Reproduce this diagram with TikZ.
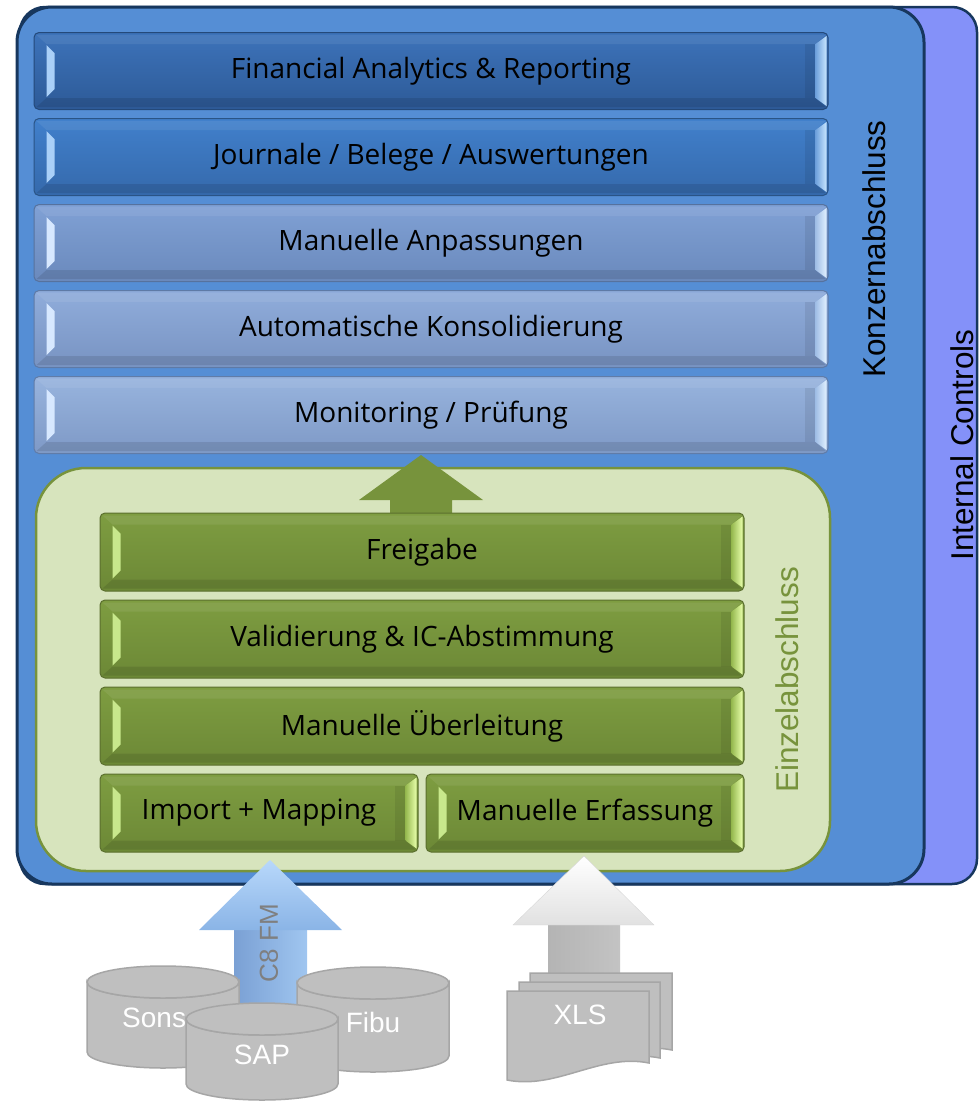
\documentclass[tikz,border=0pt]{standalone}
\usepackage{fontspec}
\setmainfont{Open Sans}
\newfontfamily\arialf{Liberation Sans}
\usetikzlibrary{calc}
\definecolor{framecol}{HTML}{17375E}
\definecolor{konzcol}{HTML}{558ED5}
\definecolor{ictrlcol}{HTML}{8491F9}
\definecolor{olivecol}{HTML}{77933C}
\definecolor{olivetop}{HTML}{7E9D41}
\definecolor{olivebot}{HTML}{6C8836}
\definecolor{olivedark}{HTML}{5B6F2E}
\definecolor{olivelight}{HTML}{D7E4BD}
\definecolor{dbfill}{HTML}{BFBFBF}
\definecolor{dbedge}{HTML}{A6A6A6}
\definecolor{bAtop}{RGB}{61,115,186}
\definecolor{bAbot}{RGB}{45,90,151}
\definecolor{bAdraw}{RGB}{36,73,122}
\definecolor{bBtop}{RGB}{65,128,204}
\definecolor{bBbot}{RGB}{53,105,171}
\definecolor{bBdraw}{RGB}{42,84,134}
\definecolor{bCtop}{RGB}{128,161,213}
\definecolor{bCbot}{RGB}{106,137,188}
\definecolor{bCdraw}{RGB}{86,114,158}
\definecolor{bDtop}{RGB}{144,173,219}
\definecolor{bDbot}{RGB}{120,147,194}
\definecolor{bDdraw}{RGB}{94,122,166}
\definecolor{bEtop}{RGB}{152,180,222}
\definecolor{bEbot}{RGB}{126,153,198}
\definecolor{bEdraw}{RGB}{96,124,168}
\definecolor{hlDarkMid}{RGB}{110,160,220}
\definecolor{hlDarkBright}{RGB}{200,230,255}
\definecolor{hlDarkLeft}{RGB}{170,208,248}
\definecolor{hlLightMid}{RGB}{160,190,230}
\definecolor{hlLightBright}{RGB}{225,240,255}
\definecolor{hlLightLeft}{RGB}{215,232,255}
\definecolor{hlGreenMid}{RGB}{150,185,80}
\definecolor{hlGreenBright}{RGB}{232,255,170}
\definecolor{hlGreenLeft}{RGB}{200,232,140}
\definecolor{cShaftL}{RGB}{122,160,212}
\definecolor{cShaftR}{RGB}{160,198,240}
\definecolor{cHeadT}{RGB}{184,216,251}
\definecolor{cHeadB}{RGB}{138,180,230}
\definecolor{c8text}{RGB}{127,127,127}
\definecolor{xShaftL}{RGB}{180,180,180}
\definecolor{xShaftM}{RGB}{225,225,225}
\definecolor{xShaftR}{RGB}{195,195,195}
\definecolor{xHeadB}{RGB}{225,225,225}
\definecolor{xHeadD}{RGB}{215,215,215}
\newcommand{\bevelhl}[4]{%
 \fill[black,opacity=0.10] ($(#1.south west)+(3,-3)$) -- ($(#1.south west)+(13,-12)$) -- ($(#1.south east)+(-13,-12)$) -- ($(#1.south east)+(-3,-3)$) -- cycle;
 \fill[white,opacity=0.07] ($(#1.north west)+(3,3)$) -- ($(#1.north west)+(13,12)$) -- ($(#1.north east)+(-13,12)$) -- ($(#1.north east)+(-3,3)$) -- cycle;
 \fill[black,opacity=0.08] ($(#1.north east)+(-24,12)$) -- ($(#1.north east)+(-13,12)$) -- ($(#1.south east)+(-13,-12)$) -- ($(#1.south east)+(-24,-12)$) -- cycle;
 \shade[left color=#2, right color=#3] ($(#1.north east)+(-13,12)$) -- ($(#1.north east)+(-2,4)$) -- ($(#1.south east)+(-2,-4)$) -- ($(#1.south east)+(-13,-12)$) -- cycle;
 \fill[#4] ($(#1.north west)+(13,13)$) -- ($(#1.north west)+(21,21)$) -- ($(#1.south west)+(21,-21)$) -- ($(#1.south west)+(13,-13)$) -- cycle;
}
\newcommand{\cylshape}[3]{%
 \filldraw[cylstyle] ({#1-76},#2) -- ({#1-76},#3) arc[start angle=180, end angle=0, x radius=76, y radius=16] -- ({#1+76},#2) arc[start angle=0, end angle=180, x radius=76, y radius=16] -- cycle;
 \draw[cylstyle] (#1,#2) ellipse[x radius=76, y radius=16];
}
\newcommand{\docshape}[4]{%
 \filldraw[cylstyle] (#1,#3) -- (#2,#3) -- (#2,#4) .. controls ({#2-0.35*(#2-#1)},{#4-10}) and ({#1+0.35*(#2-#1)},{#4+27}) .. (#1,{#4+17}) -- cycle;
}
\tikzset{
 barbase/.style={rectangle, rounded corners=5pt, minimum height=77pt, inner sep=0pt, font=\fontsize{28}{34}\selectfont, text=black, line width=1pt},
 bluebar/.style={barbase, minimum width=794pt},
 greenbar/.style={barbase, minimum width=644pt, minimum height=78pt, top color=olivetop, bottom color=olivebot, draw=olivedark},
 halfbar/.style={greenbar, minimum width=318pt},
 sidelabel/.style={rotate=90, font=\arialf\fontsize{31.5}{36}\selectfont, inner sep=0pt},
 cylstyle/.style={fill=dbfill, draw=dbedge, line width=1.5pt},
 dbtext/.style={font=\arialf\fontsize{28}{32}\selectfont, text=white, inner sep=0pt},
}
\begin{document}
\begin{tikzpicture}[x=1pt,y=-1pt]
\useasboundingbox (0,0) rectangle (979,1104);
% frames
\filldraw[fill=ictrlcol, draw=framecol, line width=2.5pt, rounded corners=25pt] (20,7) rectangle (977,884);
\filldraw[fill=konzcol, draw=framecol, line width=3pt, rounded corners=35pt] (17,7) rectangle (924,884);
\node[sidelabel] (ictrl) at (962,445) {Internal Controls};
\node[sidelabel] (konz) at (874,249) {Konzernabschluss};
% blue bars
\node[bluebar, top color=bAtop, bottom color=bAbot, draw=bAdraw] (b1) at (431,71) {Financial Analytics \& Reporting};
\node[bluebar, top color=bBtop, bottom color=bBbot, draw=bBdraw] (b2) at (431,157) {Journale / Belege / Auswertungen};
\node[bluebar, top color=bCtop, bottom color=bCbot, draw=bCdraw] (b3) at (431,243) {Manuelle Anpassungen};
\node[bluebar, top color=bDtop, bottom color=bDbot, draw=bDdraw] (b4) at (431,329) {Automatische Konsolidierung};
\node[bluebar, top color=bEtop, bottom color=bEbot, draw=bEdraw] (b5) at (431,415) {Monitoring / Prüfung};
\foreach \b in {b1,b2}{\bevelhl{\b}{hlDarkMid}{hlDarkBright}{hlDarkLeft}}
\foreach \b in {b3,b4,b5}{\bevelhl{\b}{hlLightMid}{hlLightBright}{hlLightLeft}}
% Einzelabschluss container
\filldraw[fill=olivelight, draw=olivecol, line width=2.5pt, rounded corners=50pt] (36,468) rectangle (830,871);
\node[sidelabel, text=olivecol] (einzel) at (787,680) {Einzelabschluss};
% green arrow up
\coordinate (gtip) at ($(b5.south)+(-10,1)$);
\coordinate (gfoot) at ($(gtip)+(0,59)$);
\fill[olivecol] (gtip) -- ($(gtip)+(62,45)$) -- ($(gtip)+(31,45)$) -- ($(gfoot)+(31,0)$) -- ($(gfoot)+(-31,0)$) -- ($(gtip)+(-31,45)$) -- ($(gtip)+(-62,45)$) -- cycle;
% green bars
\node[greenbar] (fg) at (422,552) {Freigabe};
\node[greenbar] (val) at (422,639) {Validierung \& IC-Abstimmung};
\node[greenbar] (ueb) at (422,726) {Manuelle Überleitung};
\node[halfbar] (imp) at (259,813) {Import + Mapping};
\node[halfbar] (erf) at (585,813) {Manuelle Erfassung};
\foreach \b in {fg,val,ueb,imp,erf}{\bevelhl{\b}{hlGreenMid}{hlGreenBright}{hlGreenLeft}}
% C8 FM arrow
\coordinate (ctip) at (270,860);
\coordinate (cfoot) at (270,1010);
\shade[left color=cShaftL, right color=cShaftR] ($(cfoot)+(-36,0)$) rectangle ($(ctip)+(37,69)$);
\shade[top color=cHeadT, bottom color=cHeadB] (ctip) -- ($(ctip)+(72,70)$) -- ($(ctip)+(-71,70)$) -- cycle;
\node[font=\arialf\fontsize{26}{30}\selectfont, text=c8text, rotate=90, inner sep=0pt] (c8) at (269,943) {C8 FM};
% databases
\cylshape{163}{982}{1052}
\node[dbtext, anchor=west] (sons) at (122,1018) {Sons};
\cylshape{373}{983}{1056}
\node[dbtext] (fibu) at (373,1022) {Fibu};
\cylshape{262}{1019}{1084}
\node[dbtext] (sap) at (262,1055) {SAP};
% XLS arrow
\coordinate (xtip) at (584,856);
\coordinate (xfoot) at (584,985);
\shade[left color=xShaftL, middle color=xShaftM, right color=xShaftR] ($(xfoot)+(-36,0)$) rectangle ($(xtip)+(36,68)$);
\shade[top color=white, bottom color=xHeadB, draw=xHeadD] (xtip) -- ($(xtip)+(70,69)$) -- ($(xtip)+(-71,69)$) -- cycle;
% documents
\docshape{530}{672}{973}{1050}
\docshape{519}{660}{982}{1058}
\docshape{507}{649}{991}{1063}
\node[dbtext] (xls) at (580,1015) {XLS};
\end{tikzpicture}
\end{document}
